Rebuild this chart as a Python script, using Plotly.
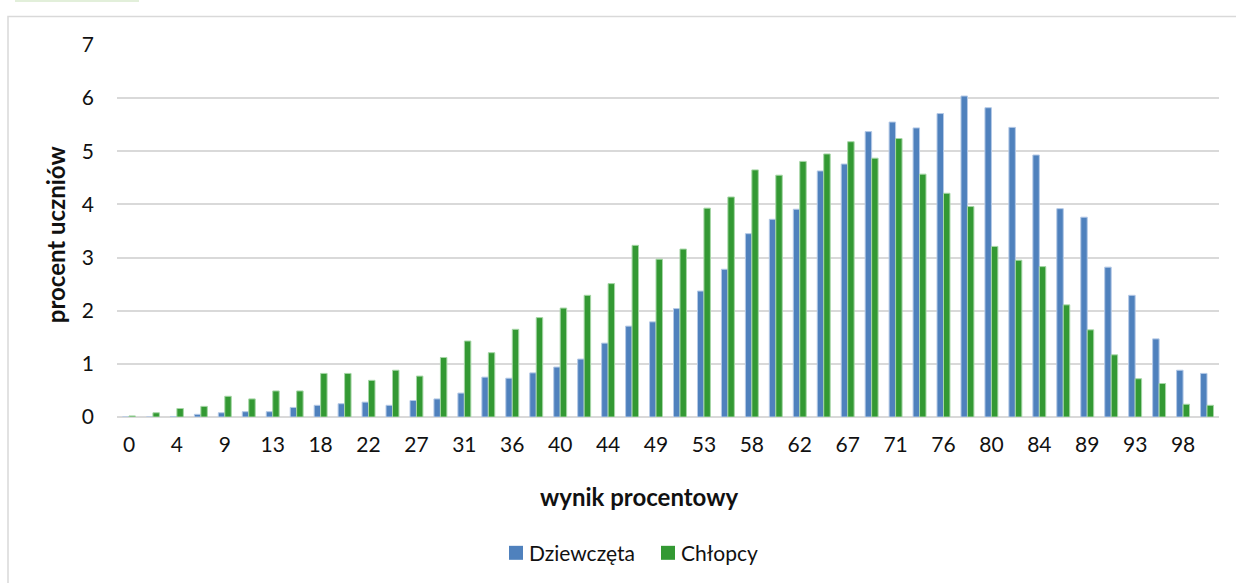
import plotly.graph_objects as go

# category labels (wynik procentowy)
categories = ["0", "2", "4", "7", "9", "11", "13", "16", "18", "20", "22", "24",
              "27", "29", "31", "33", "36", "38", "40", "42", "44", "47", "49",
              "51", "53", "56", "58", "60", "62", "64", "67", "69", "71", "73",
              "76", "78", "80", "82", "84", "87", "89", "91", "93", "96", "98", "100"]

dziewczeta = [0.0, 0.0, 0.01, 0.05, 0.08, 0.1, 0.1, 0.18, 0.22, 0.25, 0.28, 0.22,
              0.31, 0.34, 0.45, 0.75, 0.73, 0.83, 0.94, 1.09, 1.39, 1.71, 1.79,
              2.04, 2.37, 2.78, 3.45, 3.72, 3.91, 4.63, 4.76, 5.37, 5.55, 5.44,
              5.71, 6.04, 5.82, 5.45, 4.93, 3.92, 3.76, 2.82, 2.29, 1.47, 0.88, 0.82]

chlopcy = [0.02, 0.08, 0.16, 0.2, 0.39, 0.34, 0.49, 0.49, 0.82, 0.82, 0.69, 0.88,
           0.77, 1.12, 1.43, 1.21, 1.65, 1.87, 2.05, 2.29, 2.51, 3.23, 2.97,
           3.16, 3.93, 4.14, 4.65, 4.55, 4.81, 4.95, 5.18, 4.87, 5.24, 4.57,
           4.21, 3.96, 3.21, 2.95, 2.83, 2.11, 1.64, 1.17, 0.72, 0.63, 0.24, 0.22]

tick_labels = ["0", "4", "9", "13", "18", "22", "27", "31", "36", "40", "44", "49",
               "53", "58", "62", "67", "71", "76", "80", "84", "89", "93", "98"]
y_ticks = [0, 1, 2, 3, 4, 5, 6, 7]
series_names = ["Dziewczęta", "Chłopcy"]
series_colors = ["#4f81bd", "#339933"]
series_edges = ["#b4c9e6", "#a6d6a6"]

FONT = "Lato"
TXT = "#111111"

W, H = 1236, 583
L, R, T, B = 117, 17, 44.5, 166
PW, PH = W - L - R, H - T - B


def px(x):
    return (x - L) / PW


def py(y):
    return (H - B - y) / PH


fig = go.Figure()
for name, vals, col, edge in zip(series_names, [dziewczeta, chlopcy],
                                 series_colors, series_edges):
    fig.add_trace(go.Bar(
        x=categories, y=vals, name=name,
        marker=dict(color=col, line=dict(color=edge, width=1)),
    ))

# custom legend (squares + labels)
legend_shapes = []
legend_annots = []
leg_sq_x = [509, 661]
leg_txt_x = [527, 679]
for i, name in enumerate(series_names):
    legend_shapes.append(dict(
        type="rect", xref="paper", yref="paper",
        x0=px(leg_sq_x[i]), x1=px(leg_sq_x[i] + 14),
        y0=py(560), y1=py(546), line=dict(width=0),
        fillcolor=series_colors[i]))
    legend_annots.append(dict(
        text=name, xref="paper", yref="paper", x=px(leg_txt_x[i]), y=py(553),
        xanchor="left", yanchor="middle", showarrow=False,
        font=dict(family=FONT, size=21, color=TXT)))

fig.update_layout(
    width=W, height=H,
    margin=dict(l=L, r=R, t=T, b=B, autoexpand=False),
    paper_bgcolor="white", plot_bgcolor="white",
    barmode="group", bargap=0.46, bargroupgap=0.0,
    font=dict(family=FONT, size=21, color=TXT),
    showlegend=False,
    xaxis=dict(
        type="category", tickmode="array",
        tickvals=categories[::2], ticktext=tick_labels,
        showgrid=False, showline=False, zeroline=False,
        ticks="", ticklabelstandoff=13,
        tickfont=dict(family=FONT, size=21, color=TXT),
        range=[-0.5, len(categories) - 0.5],
    ),
    yaxis=dict(
        range=[0, 7], tickmode="array", tickvals=y_ticks,
        showgrid=True, gridcolor="#d9d9d9", gridwidth=1.5,
        zeroline=True, zerolinecolor="#d9d9d9", zerolinewidth=1.5,
        showline=False, ticks="", ticklabelstandoff=22,
        tickfont=dict(family=FONT, size=21, color=TXT),
    ),
    annotations=[
        dict(text="<b>wynik procentowy</b>", xref="paper", yref="paper",
             x=px(639), y=py(497), xanchor="center", yanchor="middle",
             showarrow=False, font=dict(family=FONT, size=24, color=TXT)),
        dict(text="<b>procent uczniów</b>", xref="paper", yref="paper",
             x=px(55), y=py(234), xanchor="center", yanchor="middle",
             textangle=-90, showarrow=False,
             font=dict(family=FONT, size=24, color=TXT)),
    ] + legend_annots,
    shapes=[
        dict(type="rect", xref="paper", yref="paper",
             x0=px(8), x1=px(1300), y0=py(650), y1=py(16),
             line=dict(color="#d9d9d9", width=1.5), fillcolor="rgba(0,0,0,0)",
             layer="below"),
        dict(type="rect", xref="paper", yref="paper",
             x0=px(15), x1=px(139), y0=py(1.5), y1=py(-2),
             line=dict(width=0), fillcolor="#e2efda", layer="below"),
    ] + legend_shapes,
)

fig.write_html("out.html",
               config={"displayModeBar": False},
               post_script="document.body.style.margin='0px';"
                           "document.body.style.overflow='hidden';")
